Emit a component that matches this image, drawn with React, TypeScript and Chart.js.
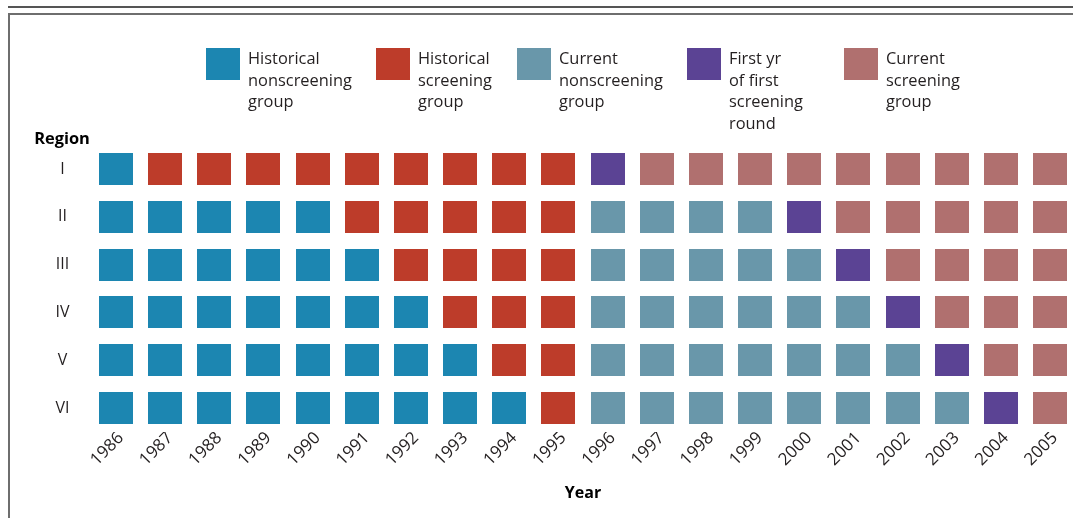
import React, { useEffect, useRef } from 'react';
import { Chart, registerables } from 'chart.js';

Chart.register(...registerables);

// ---------- data ----------
const years = ['1986', '1987', '1988', '1989', '1990', '1991', '1992', '1993', '1994', '1995',
  '1996', '1997', '1998', '1999', '2000', '2001', '2002', '2003', '2004', '2005'];
const regions = ['I', 'II', 'III', 'IV', 'V', 'VI'];

const groupNames = [
  'Historical nonscreening group',
  'Historical screening group',
  'Current nonscreening group',
  'First yr of first screening round',
  'Current screening group',
];
const groupLines = [
  ['Historical', 'nonscreening', 'group'],
  ['Historical', 'screening', 'group'],
  ['Current', 'nonscreening', 'group'],
  ['First yr', 'of first', 'screening', 'round'],
  ['Current', 'screening', 'group'],
];
const groupColors = ['#1c86b1', '#bd3c2a', '#6997aa', '#5b4394', '#b0706f'];

// group code per year (0 = hist. nonscreening, 1 = hist. screening, 2 = current nonscreening,
// 3 = first yr of first screening round, 4 = current screening)
const regionI = [0, 1, 1, 1, 1, 1, 1, 1, 1, 1, 3, 4, 4, 4, 4, 4, 4, 4, 4, 4];
const regionII = [0, 0, 0, 0, 0, 1, 1, 1, 1, 1, 2, 2, 2, 2, 3, 4, 4, 4, 4, 4];
const regionIII = [0, 0, 0, 0, 0, 0, 1, 1, 1, 1, 2, 2, 2, 2, 2, 3, 4, 4, 4, 4];
const regionIV = [0, 0, 0, 0, 0, 0, 0, 1, 1, 1, 2, 2, 2, 2, 2, 2, 3, 4, 4, 4];
const regionV = [0, 0, 0, 0, 0, 0, 0, 0, 1, 1, 2, 2, 2, 2, 2, 2, 2, 3, 4, 4];
const regionVI = [0, 0, 0, 0, 0, 0, 0, 0, 0, 1, 2, 2, 2, 2, 2, 2, 2, 2, 3, 4];
const regionCodes = [regionI, regionII, regionIII, regionIV, regionV, regionVI];

// ---------- layout ----------
const CANVAS_W = 1090;
const CANVAS_H = 518;
const FONT = '"Open Sans", Lato, sans-serif';
const TEXT_COLOR = '#231f20';
const CELL_W = 34;
const CELL_H = 32;
const LEGEND_X = [206, 376, 517, 687, 844];
const LEGEND_Y = 48;

function makeCell(color: string) {
  const c = document.createElement('canvas');
  c.width = CELL_W;
  c.height = CELL_H;
  const g = c.getContext('2d')!;
  g.fillStyle = color;
  g.fillRect(0, 0, CELL_W, CELL_H);
  return c;
}

const legendPlugin = {
  id: 'customLegend',
  afterDraw(chart: any) {
    const ctx = chart.ctx as CanvasRenderingContext2D;
    ctx.save();
    chart.data.datasets.forEach((ds: any, i: number) => {
      const x = LEGEND_X[i];
      ctx.fillStyle = ds.backgroundColor;
      ctx.fillRect(x, LEGEND_Y, CELL_W, CELL_H);
      ctx.fillStyle = TEXT_COLOR;
      ctx.font = `16.4px ${FONT}`;
      ctx.textAlign = 'left';
      ctx.textBaseline = 'alphabetic';
      groupLines[i].forEach((line, k) => ctx.fillText(line, x + 42, 64 + k * 21.5));
    });
    ctx.fillStyle = '#000';
    ctx.font = `bold 16.4px ${FONT}`;
    ctx.textAlign = 'center';
    ctx.fillText('Region', 62, 144);
    ctx.restore();
  },
};

export default function App() {
  const ref = useRef<HTMLCanvasElement>(null);

  useEffect(() => {
    if (!ref.current) return;
    const datasets = groupNames.map((name, g) => {
      const data: { x: string; y: string }[] = [];
      regionCodes.forEach((codes, r) => {
        codes.forEach((code, yi) => {
          if (code === g) data.push({ x: years[yi], y: regions[r] });
        });
      });
      return {
        label: name,
        data,
        backgroundColor: groupColors[g],
        borderColor: groupColors[g],
        pointStyle: makeCell(groupColors[g]),
        pointRadius: 5,
        showLine: false,
      };
    });

    const chart = new Chart(ref.current, {
      type: 'scatter',
      data: { datasets },
      plugins: [legendPlugin],
      options: {
        responsive: false,
        maintainAspectRatio: false,
        devicePixelRatio: 1,
        animation: false,
        events: [],
        layout: { padding: { left: 31.42, right: 15.42, top: 145.1, bottom: 0 } },
        plugins: { legend: { display: false }, tooltip: { enabled: false } },
        scales: {
          x: {
            type: 'category',
            labels: years,
            offset: true,
            grid: { display: false, drawTicks: false },
            border: { display: false },
            ticks: {
              autoSkip: false,
              minRotation: 45,
              maxRotation: 45,
              padding: -4,
              labelOffset: 5,
              color: TEXT_COLOR,
              font: { family: FONT, size: 17 },
            },
            title: {
              display: true,
              text: 'Year',
              color: '#000',
              font: { family: FONT, size: 16, weight: 'bold' },
              padding: { top: 0, bottom: 15 },
            },
            afterFit: (scale: any) => { scale.height = 86; },
          },
          y: {
            type: 'category',
            labels: regions,
            offset: true,
            grid: { display: false, drawTicks: false },
            border: { display: false },
            ticks: {
              crossAlign: 'center',
              padding: 22,
              color: TEXT_COLOR,
              font: { family: FONT, size: 16 },
            },
            afterFit: (scale: any) => { scale.width = 60; },
          },
        },
      } as any,
    });
    return () => chart.destroy();
  }, []);

  return (
    <div style={{ position: 'fixed', left: 0, top: 0, width: 1073, height: 518, overflow: 'hidden', background: '#fff' }}>
      <div style={{ position: 'absolute', left: 8, top: 6, right: 0, height: 2, background: '#555' }} />
      <div style={{ position: 'absolute', left: 8, top: 13, right: -10, bottom: -10, borderTop: '2px solid #6e6e6e', borderLeft: '2px solid #6e6e6e' }} />
      <canvas ref={ref} width={CANVAS_W} height={CANVAS_H} style={{ position: 'absolute', left: 0, top: 0, width: CANVAS_W, height: CANVAS_H }} />
    </div>
  );
}
